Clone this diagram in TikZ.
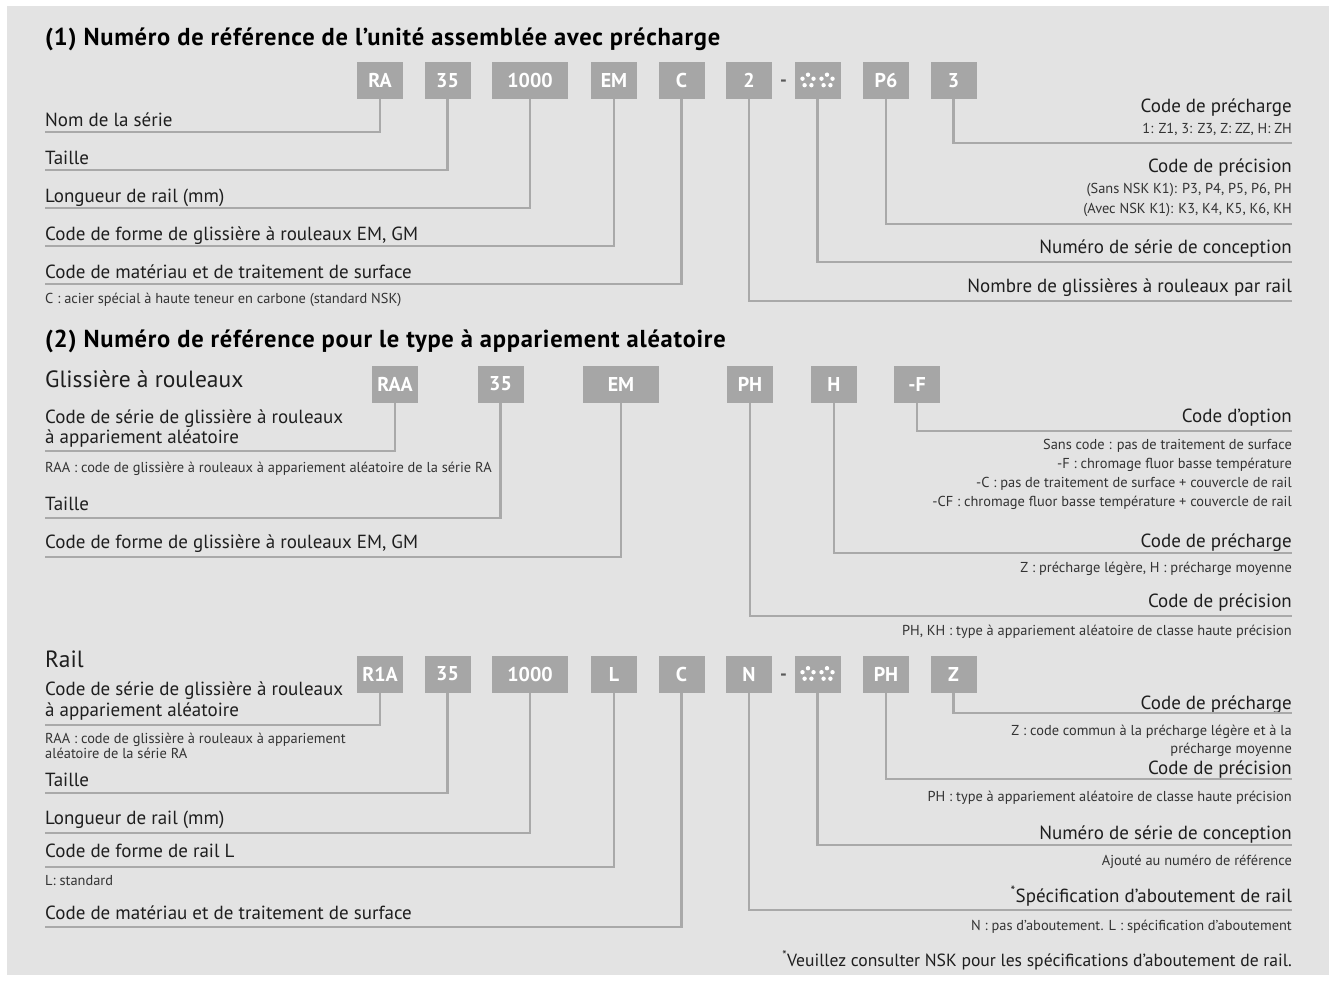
\documentclass[tikz,border=0pt]{standalone}
\usepackage{fontspec}
\setmainfont{PT Sans}
\newfontfamily\TitleFam{PT Sans}[LetterSpace=3]
\definecolor{bggray}{HTML}{E3E3E3}
\definecolor{boxgray}{HTML}{A6A6A6}
\definecolor{linegray}{HTML}{A9A9A9}
\definecolor{txtdark}{HTML}{1E1E1E}
\definecolor{txtsmall}{HTML}{333333}
\newcommand\FtTitle{\TitleFam\bfseries\fontsize{24.5}{27}\selectfont}
\newcommand\FtSub{\fontsize{23.5}{27}\selectfont}
\newcommand\FtMain{\fontsize{19}{22}\selectfont}
\newcommand\FtSmall{\fontsize{14.4}{17}\selectfont}
\newcommand\FtBox{\bfseries\fontsize{20}{22}\selectfont}
\newcommand\FtNote{\fontsize{17.6}{20}\selectfont}
\tikzset{
  cbox/.style={fill=boxgray,text=white,font=\FtBox,minimum height=37pt,minimum width=46pt,inner sep=0pt},
  widebox/.style={minimum width=76pt},
  conn/.style={draw=linegray,line width=2.8pt},
  ttl/.style={anchor=base west,inner sep=0pt,font=\FtTitle,text=black},
  subttl/.style={anchor=base west,inner sep=0pt,font=\FtSub,text=txtdark},
  lbl/.style={anchor=base west,inner sep=0pt,font=\FtMain,text=txtdark},
  lsm/.style={anchor=base west,inner sep=0pt,font=\FtSmall,text=txtsmall},
  rbl/.style={anchor=base east,inner sep=0pt,font=\FtMain,text=txtdark},
  rsm/.style={anchor=base east,inner sep=0pt,font=\FtSmall,text=txtsmall},
  sep/.style={inner sep=0pt,font=\bfseries\FtMain,text=black!65},
  rosette/.pic={\foreach \a in {90,162,234,306,18} \fill[white] (\a:5.8pt) circle (2.2pt);}
}
\begin{document}
\begin{tikzpicture}[x=1pt,y=-1pt]
\useasboundingbox (0,0) rectangle (1336,982);
\fill[white] (0,0) rectangle (1336,982);
\fill[bggray] (7,6) rectangle (1329,975);

% titles
\node[ttl] (t1) at (45,46) {(1) Numéro de référence de l’unité assemblée avec précharge};
\node[ttl] (t2) at (45,347) {(2) Numéro de référence pour le type à appariement aléatoire};
\node[subttl] (s1) at (45,387) {Glissière à rouleaux};
\node[subttl] (s2) at (45,667) {Rail};

% ===== row 1 =====
\node[cbox] (a1) at (380,80.5) {RA};
\node[cbox] (a2) at (447.5,80.5) {35};
\node[cbox,widebox] (a3) at (530,80.5) {1000};
\node[cbox] (a4) at (614,80.5) {EM};
\node[cbox] (a5) at (681.5,80.5) {C};
\node[cbox] (a6) at (749,80.5) {2};
\node[sep] (a6d) at (783.5,83.5) {-};
\node[cbox] (a7) at (817.5,80.5) {};
\pic[xshift=-9.5pt] at (a7.center) {rosette};
\pic[xshift=9.5pt] at (a7.center) {rosette};
\node[cbox] (a8) at (886,80.5) {P6};
\node[cbox] (a9) at (953.5,80.5) {3};

\node[lbl] (la1) at (45,126) {Nom de la série};
\node[lbl] (la2) at (45,164) {Taille};
\node[lbl] (la3) at (45,202) {Longueur de rail (mm)};
\node[lbl] (la4) at (45,240) {Code de forme de glissière à rouleaux EM, GM};
\node[lbl] (la5) at (45,278) {Code de matériau et de traitement de surface};
\node[lsm] (la5s) at (45,303) {C : acier spécial à haute teneur en carbone (standard NSK)};
\coordinate (ea1) at (45,132);
\coordinate (ea2) at (45,170);
\coordinate (ea3) at (45,208);
\coordinate (ea4) at (45,246);
\coordinate (ea5) at (45,284);
\draw[conn] (a1.south) |- (ea1);
\draw[conn] (a2.south) |- (ea2);
\draw[conn] (a3.south) |- (ea3);
\draw[conn] (a4.south) |- (ea4);
\draw[conn] (a5.south) |- (ea5);

\node[rbl] (ra9) at (1292,112) {Code de précharge};
\node[rsm] (ra9s) at (1292,133) {1: Z1, 3: Z3, Z: ZZ, H: ZH};
\node[rbl] (ra8) at (1292,172) {Code de précision};
\node[rsm] (ra8s) at (1292,193) {(Sans NSK K1): P3, P4, P5, P6, PH};
\node[rsm] (ra8t) at (1292,213) {(Avec NSK K1): K3, K4, K5, K6, KH};
\node[rbl] (ra7) at (1292,253) {Numéro de série de conception};
\node[rbl] (ra6) at (1292,292) {Nombre de glissières à rouleaux par rail};
\coordinate (ea9) at (1292,143);
\coordinate (ea8) at (1292,224);
\coordinate (ea7) at (1292,262);
\coordinate (ea6) at (1292,301);
\draw[conn] (a9.south) |- (ea9);
\draw[conn] (a8.south) |- (ea8);
\draw[conn] (a7.south) |- (ea7);
\draw[conn] (a6.south) |- (ea6);

% ===== row 2 =====
\node[cbox] (b1) at (395,384) {RAA};
\node[cbox] (b2) at (500.5,384) {35};
\node[cbox,widebox] (b3) at (621,384) {EM};
\node[cbox] (b4) at (750,384) {PH};
\node[cbox] (b5) at (834,384) {H};
\node[cbox] (b6) at (917,384) {-F};

\node[lbl] (lb1) at (45,423) {Code de série de glissière à rouleaux};
\node[lbl] (lb1b) at (45,443) {à appariement aléatoire};
\node[lsm] (lb1s) at (45,472) {RAA : code de glissière à rouleaux à appariement aléatoire de la série RA};
\node[lbl] (lb2) at (45,510) {Taille};
\node[lbl] (lb3) at (45,548) {Code de forme de glissière à rouleaux EM, GM};
\coordinate (eb1) at (45,451);
\coordinate (eb2) at (45,518);
\coordinate (eb3) at (45,557);
\draw[conn] (b1.south) |- (eb1);
\draw[conn] (b2.south) |- (eb2);
\draw[conn] (b3.south) |- (eb3);

\node[rbl] (rb6) at (1292,422) {Code d’option};
\node[rsm] (rb6a) at (1292,449) {Sans code : pas de traitement de surface};
\node[rsm] (rb6b) at (1292,468) {-F : chromage fluor basse température};
\node[rsm] (rb6c) at (1292,487) {-C : pas de traitement de surface + couvercle de rail};
\node[rsm] (rb6d) at (1292,506) {-CF : chromage fluor basse température + couvercle de rail};
\node[rbl] (rb5) at (1292,547) {Code de précharge};
\node[rsm] (rb5s) at (1292,572) {Z : précharge légère, H : précharge moyenne};
\node[rbl] (rb4) at (1292,607) {Code de précision};
\node[rsm] (rb4s) at (1292,635) {PH, KH : type à appariement aléatoire de classe haute précision};
\coordinate (eb6) at (1292,431);
\coordinate (eb5) at (1292,553);
\coordinate (eb4) at (1292,616);
\draw[conn] (b6.south) |- (eb6);
\draw[conn] (b5.south) |- (eb5);
\draw[conn] (b4.south) |- (eb4);

% ===== row 3 =====
\node[cbox] (c1) at (380,674) {R1A};
\node[cbox] (c2) at (447.5,674) {35};
\node[cbox,widebox] (c3) at (530,674) {1000};
\node[cbox] (c4) at (614,674) {L};
\node[cbox] (c5) at (681.5,674) {C};
\node[cbox] (c6) at (749,674) {N};
\node[sep] (c6d) at (783.5,677) {-};
\node[cbox] (c7) at (817.5,674) {};
\pic[xshift=-9.5pt] at (c7.center) {rosette};
\pic[xshift=9.5pt] at (c7.center) {rosette};
\node[cbox] (c8) at (886,674) {PH};
\node[cbox] (c9) at (953.5,674) {Z};

\node[lbl] (lc1) at (45,695) {Code de série de glissière à rouleaux};
\node[lbl] (lc1b) at (45,716) {à appariement aléatoire};
\node[lsm] (lc1s) at (45,743) {RAA : code de glissière à rouleaux à appariement};
\node[lsm] (lc1t) at (45,758) {aléatoire de la série RA};
\node[lbl] (lc2) at (45,786) {Taille};
\node[lbl] (lc3) at (45,824) {Longueur de rail (mm)};
\node[lbl] (lc4) at (45,857) {Code de forme de rail L};
\node[lsm] (lc4s) at (45,885) {L: standard};
\node[lbl] (lc5) at (45,919) {Code de matériau et de traitement de surface};
\coordinate (ec1) at (45,725);
\coordinate (ec2) at (45,793);
\coordinate (ec3) at (45,833);
\coordinate (ec4) at (45,867);
\coordinate (ec5) at (45,927);
\draw[conn] (c1.south) |- (ec1);
\draw[conn] (c2.south) |- (ec2);
\draw[conn] (c3.south) |- (ec3);
\draw[conn] (c4.south) |- (ec4);
\draw[conn] (c5.south) |- (ec5);

\node[rbl] (rc9) at (1292,709) {Code de précharge};
\node[rsm] (rc9s) at (1292,735) {Z : code commun à la précharge légère et à la};
\node[rsm] (rc9t) at (1292,753) {précharge moyenne};
\node[rbl] (rc8) at (1292,774) {Code de précision};
\node[rsm] (rc8s) at (1292,801) {PH : type à appariement aléatoire de classe haute précision};
\node[rbl] (rc7) at (1292,839) {Numéro de série de conception};
\node[rsm] (rc7s) at (1292,865) {Ajouté au numéro de référence};
\node[rbl] (rc6) at (1292,902) {\textsuperscript{*}Spécification d’aboutement de rail};
\node[rsm] (rc6s) at (1292,930) {N : pas d’aboutement. L : spécification d’aboutement};
\coordinate (ec9) at (1292,713);
\coordinate (ec8) at (1292,779);
\coordinate (ec7) at (1292,845);
\coordinate (ec6) at (1292,910);
\draw[conn] (c9.south) |- (ec9);
\draw[conn] (c8.south) |- (ec8);
\draw[conn] (c7.south) |- (ec7);
\draw[conn] (c6.south) |- (ec6);

\node[anchor=base east,inner sep=0pt,font=\FtNote,text=txtdark] (fn) at (1292,966) {\textsuperscript{*}Veuillez consulter NSK pour les spécifications d’aboutement de rail.};
\end{tikzpicture}
\end{document}
